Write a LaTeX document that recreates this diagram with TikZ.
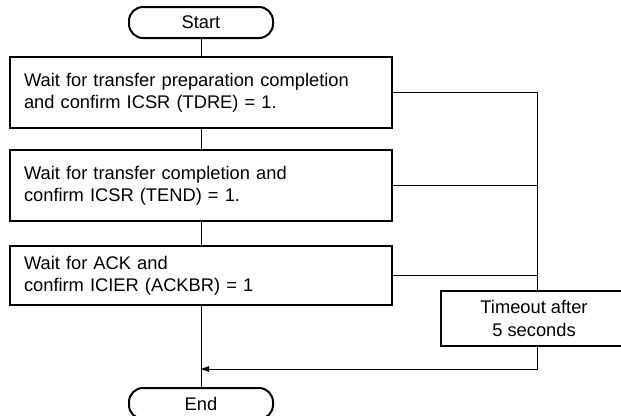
\documentclass[tikz,border=0pt]{standalone}
\usepackage{fontspec}
\setmainfont{Liberation Sans}
\usetikzlibrary{arrows.meta}
\begin{document}
\begin{tikzpicture}[x=1pt,y=-1pt,
  font=\fontsize{18.3}{22.3}\selectfont,
  term/.style={draw, line width=2pt, rounded corners=14pt,
    minimum width=144pt, minimum height=31pt, inner sep=0pt},
  procbox/.style={draw, line width=2.3pt, text width=354pt, align=left,
    inner xsep=14pt, inner ysep=0pt, minimum height=#1},
  waitbox/.style={draw, line width=2.3pt, align=center,
    minimum width=186pt, minimum height=55pt, inner sep=0pt},
  flow/.style={line width=0.9pt},
  tip/.style={-{Triangle[length=8pt,width=5.5pt]}}
]
\useasboundingbox (0,0) rectangle (621,415);
\clip (0,0) rectangle (621,415);

% terminals
\node[term] (start) at (201,22.5) {Start};
\node[term] (finish) at (201,403.5) {End};

% process steps
\node[procbox=71pt] (b1) at (201,92.5)
  {Wait for transfer preparation completion\\and confirm ICSR (TDRE) = 1.};
\node[procbox=71pt] (b2) at (201,185.5)
  {Wait for transfer completion and\\confirm ICSR (TEND) = 1.};
\node[procbox=59pt] (b3) at (201,275.5)
  {Wait for ACK and\\confirm ICIER (ACKBR) = 1};

% timeout branch
\node[waitbox] (tmo) at (534,318.5) {Timeout after\\5 seconds};
\coordinate (rail) at (537,0);
\coordinate (join) at (201,369);

% main flow
\draw[flow] (start) -- (b1);
\draw[flow] (b1) -- (b2);
\draw[flow] (b2) -- (b3);
\draw[flow] (b3) -- (finish);

% timeout collection rail
\draw[flow] (b1.east) -- (b1.east -| rail) -- (rail |- tmo.north);
\draw[flow] (b2.east) -- (b2.east -| rail);
\draw[flow] (b3.east) -- (b3.east -| rail);
\draw[flow,tip] (rail |- tmo.south) -- (rail |- join) -- (join);
\end{tikzpicture}
\end{document}
